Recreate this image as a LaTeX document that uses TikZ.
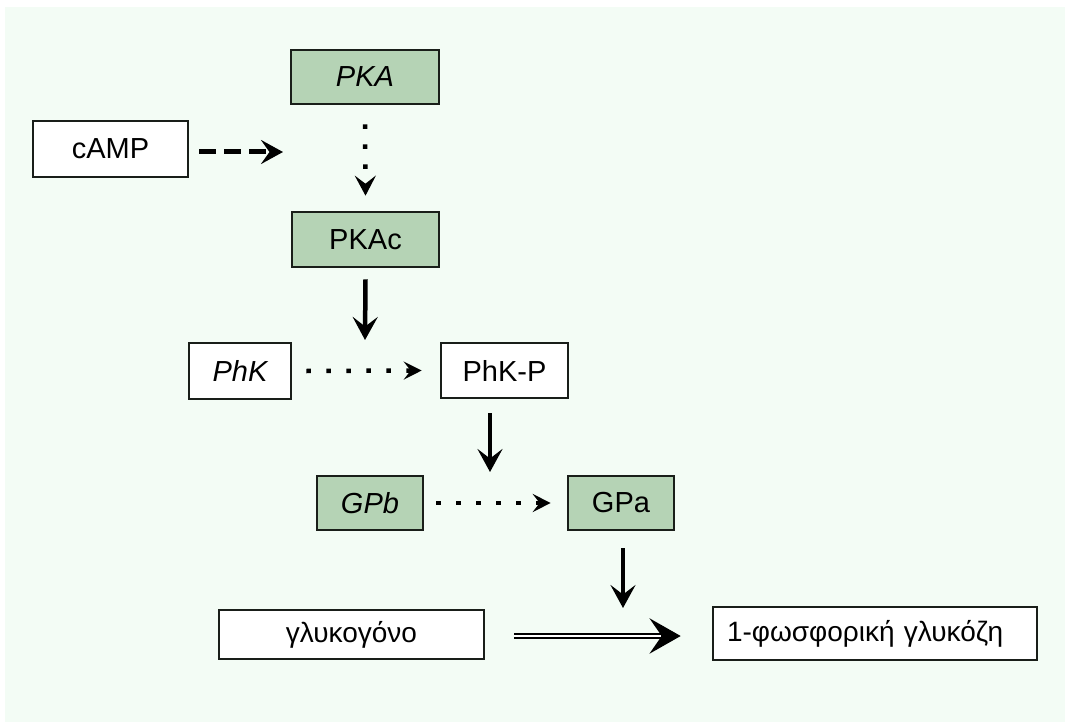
\documentclass[tikz,border=0pt]{standalone}
\usepackage{fontspec}
\setmainfont{Liberation Sans}
\usetikzlibrary{arrows.meta}
\definecolor{bgmint}{RGB}{243,252,245}
\definecolor{boxgreen}{RGB}{181,211,181}
\definecolor{edge}{RGB}{25,30,25}
\begin{document}
\begin{tikzpicture}[x=1pt,y=-1pt,
  box/.style={draw=edge,line width=2.6pt,fill=white,inner sep=0pt,font=\fontsize{29}{32}\selectfont,text=black},
  gbox/.style={box,fill=boxgreen},
  solidarr/.style={line width=4.5pt,-{Stealth[length=23pt,width=25pt,inset=9.5pt]}},
  dotarr/.style={line width=4.5pt,dash pattern=on 4.5pt off 15.5pt,-{Stealth[length=18pt,width=18pt,inset=7pt]}},
  vdotarr/.style={dotarr,-{Stealth[length=20pt,width=21pt,inset=8pt]}},
  dasharr/.style={line width=5pt,dash pattern=on 17pt off 8pt,-{Stealth[length=22pt,width=24pt,inset=8.5pt]}},
  dblouter/.style={line width=6.8pt,-{Stealth[length=31pt,width=35pt,inset=12pt]}},
  dblinner/.style={line width=2.4pt,draw=white,shorten >=20pt}
]
\useasboundingbox (0,0) rectangle (1065,722);
\fill[white] (0,0) rectangle (1065,722);
\fill[bgmint] (5,7) rectangle (1065,722);

\node[gbox,minimum width=148pt,minimum height=54pt] (pka) at (365,77) {\itshape PKA};
\node[box,minimum width=155pt,minimum height=56pt] (camp) at (110.5,149) {cAMP};
\node[gbox,minimum width=147pt,minimum height=55pt] (pkac) at (365.5,239.5) {PKAc};
\node[box,minimum width=102pt,minimum height=56pt] (phk) at (240,371) {\itshape PhK};
\node[box,minimum width=127pt,minimum height=55pt] (phkp) at (504.5,370.5) {PhK-P};
\node[gbox,minimum width=106pt,minimum height=54pt] (gpb) at (370,503) {\itshape GPb};
\node[gbox,minimum width=106pt,minimum height=54pt] (gpa) at (621,503) {GPa};
\node[box,minimum width=265pt,minimum height=49pt,font=\fontsize{28}{30}\selectfont] (glyc) at (351.5,634.5) {γλυκογόνο};
\node[box,minimum height=53pt,text width=296pt,inner xsep=14pt,align=left,font=\fontsize{28}{30}\selectfont] (g1p) at (875,633.5) {1-φωσφορική γλυκόζη};

\coordinate (campend) at (283,152);
\coordinate (pkacend) at (365,340);
\coordinate (phkpend) at (490,472);
\coordinate (gpaend) at (623,608);

\draw[dasharr] ([xshift=10pt]camp.east |- campend) -- (campend);
\draw[vdotarr] ([yshift=-19pt]pka.south) -- ([yshift=15pt]pkac.north);
\draw[solidarr] ([yshift=-11pt]pkac.south) -- (pkacend);
\draw[dotarr] ([xshift=14pt]phk.east) -- ([xshift=-18pt]phkp.west);
\draw[solidarr] ([yshift=-14pt]phkp.south -| phkpend) -- (phkpend);
\draw[dotarr] ([xshift=12pt]gpb.east) -- ([xshift=-16pt]gpa.west);
\draw[solidarr] ([yshift=-17pt]gpa.south -| gpaend) -- (gpaend);
\draw[dblouter] ([xshift=29pt]glyc.east |- 0,636) -- ([xshift=-31pt]g1p.west |- 0,636);
\draw[dblinner] ([xshift=29pt]glyc.east |- 0,636) -- ([xshift=-31pt]g1p.west |- 0,636);
\end{tikzpicture}
\end{document}
